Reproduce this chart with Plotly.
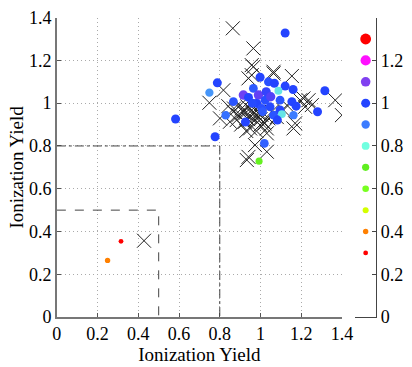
import plotly.graph_objects as go

# circles: position and third value (colour + size)
circ_x = [1.121, 0.788, 0.749, 0.998, 1.039, 1.068, 1.121, 1.160, 1.316, 1.088,
          0.965, 0.916, 0.941, 0.990, 1.028, 0.867, 0.829, 0.926, 0.982, 1.006,
          1.047, 1.064, 1.096, 1.105, 1.083, 1.162, 1.154, 1.175, 1.280, 1.096,
          1.023, 0.777, 1.019, 0.993, 0.583, 0.960, 1.050, 1.010, 0.315, 0.249]
circ_y = [1.328, 1.095, 1.049, 1.121, 1.100, 1.093, 1.080, 1.064, 1.058, 1.058,
          1.069, 1.038, 1.027, 1.038, 1.053, 1.007, 0.944, 0.912, 0.999, 0.976,
          0.983, 0.944, 0.968, 0.949, 0.921, 0.944, 1.007, 0.986, 0.960, 1.014,
          1.014, 0.843, 0.812, 0.729, 0.926, 1.000, 1.030, 0.960, 0.354, 0.265]
circ_v = [1.00, 1.00, 0.88, 1.00, 0.98, 1.00, 1.00, 1.00, 1.00, 0.82,
          0.96, 1.08, 1.00, 1.07, 1.02, 0.97, 0.92, 1.00, 1.00, 0.98,
          0.99, 0.97, 1.00, 0.82, 1.00, 0.90, 1.00, 1.00, 1.00, 0.97,
          0.98, 1.00, 0.95, 0.68, 1.00, 0.99, 1.05, 0.96, 0.30, 0.40]

# crosses
cross_x = [0.864, 0.965, 0.965, 1.064, 1.154, 0.941, 0.818, 0.749, 0.842, 0.867,
           0.891, 0.908, 0.924, 0.949, 0.957, 0.973, 0.998, 1.031, 1.039, 0.949,
           1.162, 1.195, 1.236, 1.219, 1.252, 1.367, 1.400, 1.031, 0.973, 0.941,
           0.933, 1.031, 0.990, 1.014, 0.883, 0.850, 0.924, 0.801, 1.055, 1.113,
           0.957, 0.957, 1.211, 1.170, 1.064, 0.900, 0.935, 0.960, 0.985, 1.000,
           0.915, 0.940, 0.970, 0.870, 0.905, 0.955, 1.005, 1.020, 0.980, 0.930,
           1.080, 1.130, 0.428]
cross_y = [1.350, 1.256, 1.170, 1.147, 1.127, 1.116, 1.061, 1.002, 0.986, 0.960,
           0.944, 0.976, 0.952, 0.936, 0.968, 0.921, 0.898, 0.882, 0.929, 0.882,
           0.882, 1.014, 1.014, 0.983, 0.991, 1.014, 0.944, 0.859, 0.804, 0.749,
           0.734, 0.773, 0.952, 0.913, 0.921, 0.913, 0.913, 0.929, 0.960, 0.968,
           1.178, 1.131, 1.022, 0.906, 1.139, 0.990, 0.985, 0.955, 0.940, 0.925,
           0.960, 0.925, 0.940, 0.975, 0.900, 0.995, 0.945, 0.905, 0.870, 0.870,
           0.935, 0.990, 0.357]

# legend scale next to the plot
legend_v = [0.3, 0.4, 0.5, 0.6, 0.7, 0.8, 0.9, 1.0, 1.1, 1.2, 1.3]

box_inner = 0.5
box_outer = 0.8

ticks = [0, 0.2, 0.4, 0.6, 0.8, 1, 1.2, 1.4]
tick_text = ["0", "0.2", "0.4", "0.6", "0.8", "1", "1.2", "1.4"]

cscale = [
    [0.0, "#ff0000"], [0.1, "#ff8000"], [0.2, "#d4ff00"], [0.3, "#78ff20"],
    [0.4, "#60ee20"], [0.5, "#70ffe0"], [0.6, "#3c7cff"], [0.7, "#2444ff"],
    [0.8, "#8040f0"], [0.9, "#ff10ff"], [1.0, "#ff0000"],
]


def sizes(vals):
    return [3 + 6 * v for v in vals]


font = "Liberation Serif"
fig = go.Figure()

fig.add_trace(go.Scatter(
    x=cross_x, y=cross_y, mode="markers",
    marker=dict(symbol="x-thin-open", size=14, color="#222222", opacity=1,
                line=dict(width=1, color="#222222")),
    showlegend=False, hoverinfo="skip"))

fig.add_trace(go.Scatter(
    x=circ_x, y=circ_y, mode="markers",
    marker=dict(color=circ_v, colorscale=cscale, cmin=0.3, cmax=1.3, opacity=1,
                size=sizes(circ_v), line=dict(width=0)),
    showlegend=False))

fig.add_trace(go.Scatter(
    x=[0] * len(legend_v), y=legend_v, mode="markers", xaxis="x2", yaxis="y2",
    marker=dict(color=legend_v, colorscale=cscale, cmin=0.3, cmax=1.3, opacity=1,
                size=sizes(legend_v), line=dict(width=0)),
    showlegend=False))

fig.add_shape(type="path", path=f"M 0,{box_inner} L {box_inner},{box_inner} L {box_inner},0",
              xref="x", yref="y", line=dict(color="#444444", width=1, dash="dash"))
fig.add_shape(type="path", path=f"M 0,{box_outer} L {box_outer},{box_outer} L {box_outer},0",
              xref="x", yref="y", line=dict(color="#444444", width=1, dash="dashdot"))

axis_common = dict(
    range=[0, 1.4], tickvals=ticks, ticktext=tick_text, ticks="inside", ticklen=4,
    tickcolor="#555555", showline=True, linecolor="#777777", linewidth=1.5,
    showgrid=True, gridcolor="#aaaaaa", griddash="1px,3px", gridwidth=1,
    zeroline=False, automargin=False,
    tickfont=dict(family=font, size=18, color="black"),
)

fig.update_layout(
    width=412, height=367,
    margin=dict(l=0, r=0, t=0, b=0),
    plot_bgcolor="white", paper_bgcolor="white",
    xaxis=dict(axis_common, domain=[0.138, 0.830], anchor="y",
               title=dict(text="Ionization Yield", standoff=2,
                          font=dict(family=font, size=19, color="black"))),
    yaxis=dict(axis_common, domain=[0.136, 0.952], anchor="x",
               title=dict(text="Ionization Yield", standoff=0,
                          font=dict(family=font, size=19, color="black"))),
    xaxis2=dict(domain=[0.862, 0.913], anchor="y2", range=[-1, 1], showline=True,
                linecolor="#444444", linewidth=1, showticklabels=False, ticks="",
                showgrid=False, zeroline=False, automargin=False),
    yaxis2=dict(domain=[0.136, 0.952], anchor="x2", side="right", range=[0, 1.4],
                tickvals=ticks[:-1], ticktext=tick_text[:-1], ticks="inside", ticklen=4,
                showline=True, linecolor="#444444", linewidth=1, showgrid=False,
                zeroline=False, automargin=False,
                tickfont=dict(family=font, size=18, color="black")),
)

# the page's default body margin would shift the 412x367 figure
fig.write_html("out.html", config={"displayModeBar": False},
               post_script="document.body.style.margin = '0';")
